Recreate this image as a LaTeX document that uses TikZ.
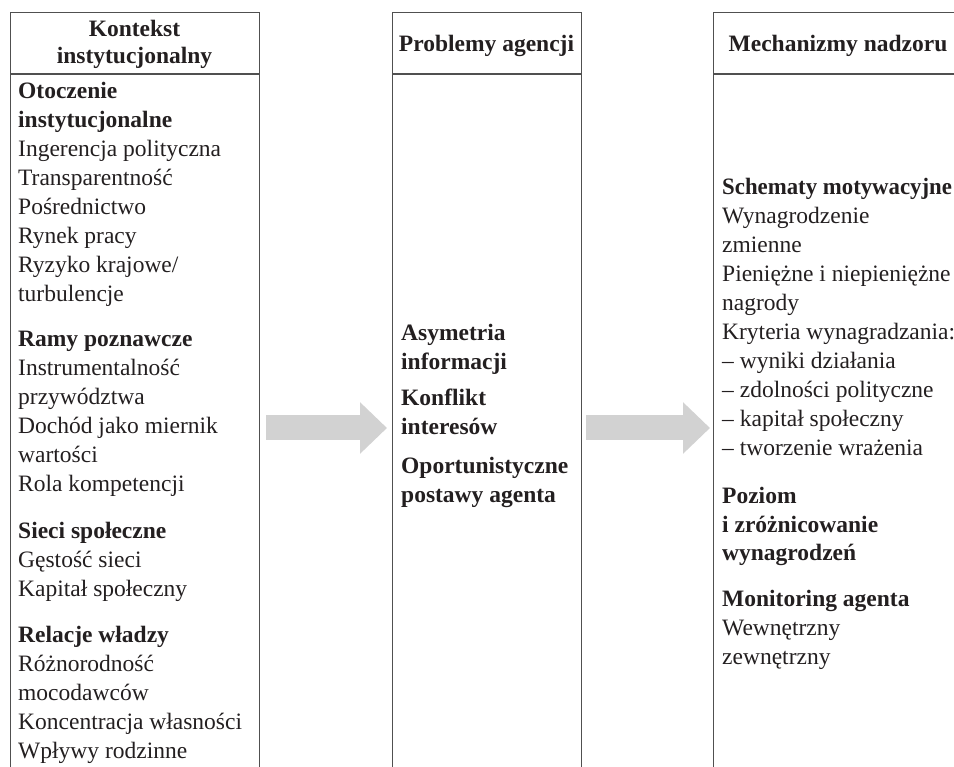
\documentclass[tikz,border=0pt]{standalone}
\usepackage{fontspec}
\setmainfont{Liberation Serif}
\usetikzlibrary{arrows.meta}

\definecolor{ramka}{HTML}{505050}
\definecolor{szary}{HTML}{D2D2D2}
\definecolor{czarny}{HTML}{231F20}

\tikzset{
  kolumna/.style={draw=ramka, line width=1.1pt, minimum height=800pt, inner sep=0pt, anchor=north west},
  naglowek/.style={anchor=base, inner sep=0pt, text=czarny, font=\fontsize{23.5}{27}\selectfont\bfseries},
  tekst/.style={anchor=base west, inner sep=0pt, text=czarny, font=\fontsize{23.5}{29}\selectfont},
  strzalka/.style={draw=szary, line width=25pt, -{Triangle[length=27pt, width=50pt]}}
}

\begin{document}
\begin{tikzpicture}[x=1pt, y=-1pt]

    % Fix the frame of the picture
    \useasboundingbox (0,0) rectangle (954,767);
    \clip (0,0) rectangle (954,767);

    % Heights of the header line and of the arrows
    \coordinate (linia) at (0,74);
    \coordinate (poziomS) at (0,428);

    % The three columns (open at the bottom)
    \node[kolumna, minimum width=249pt] (kolA) at (10,12) {};
    \node[kolumna, minimum width=189pt] (kolB) at (392,12) {};
    \node[kolumna, minimum width=257pt] (kolC) at (713,12) {};

    % Lines under the headers
    \draw[draw=ramka, line width=1.1pt] (kolA.west |- linia) -- (kolA.east |- linia);
    \draw[draw=ramka, line width=1.1pt] (kolB.west |- linia) -- (kolB.east |- linia);
    \draw[draw=ramka, line width=1.1pt] (kolC.west |- linia) -- (kolC.east |- linia);

    % Headers
    \node[naglowek] (tytulA) at (134.5,37) {\parbox[t]{230pt}{\centering Kontekst\\instytucjonalny}};
    \node[naglowek] (tytulB) at (486.5,52) {Problemy agencji};
    \node[naglowek] (tytulC) at (838,52) {Mechanizmy nadzoru};

    % Left column
    \node[tekst] (otoczenie) at (18,99) {\parbox[t]{235pt}{\textbf{Otoczenie}\\\textbf{instytucjonalne}\\Ingerencja polityczna\\Transparentność\\Pośrednictwo\\Rynek pracy\\Ryzyko krajowe/\\turbulencje}};
    \node[tekst] (ramy) at (18,347) {\parbox[t]{235pt}{\textbf{Ramy poznawcze}\\Instrumentalność\\przywództwa\\Dochód jako miernik\\wartości\\Rola kompetencji}};
    \node[tekst] (sieci) at (18,538) {\parbox[t]{235pt}{\textbf{Sieci społeczne}\\Gęstość sieci\\Kapitał społeczny}};
    \node[tekst] (relacje) at (18,642) {\parbox[t]{235pt}{\textbf{Relacje władzy}\\Różnorodność\\mocodawców\\Koncentracja własności\\Wpływy rodzinne}};

    % Middle column
    \node[tekst] (asymetria) at (401,341) {\parbox[t]{180pt}{\bfseries Asymetria\\informacji}};
    \node[tekst] (konflikt) at (401,406) {\parbox[t]{180pt}{\bfseries Konflikt\\interesów}};
    \node[tekst] (postawy) at (401,473) {\parbox[t]{180pt}{\bfseries Oportunistyczne\\postawy agenta}};

    % Right column
    \node[tekst] (schematy) at (722,195) {\parbox[t]{240pt}{\scalebox{0.97}[1]{\textbf{Schematy motywacyjne}}\\Wynagrodzenie\\zmienne\\Pieniężne i niepieniężne\\nagrody\\Kryteria wynagradzania:\\– wyniki działania\\– zdolności polityczne\\– kapitał społeczny\\– tworzenie wrażenia}};
    \node[tekst] (poziom) at (722,503) {\parbox[t]{240pt}{\bfseries Poziom\\i zróżnicowanie\\wynagrodzeń}};
    \node[tekst] (monitoring) at (722,606) {\parbox[t]{240pt}{\textbf{Monitoring agenta}\\Wewnętrzny\\zewnętrzny}};

    % Arrows between the columns
    \draw[strzalka] ([xshift=6pt]kolA.east |- poziomS) -- ([xshift=-5pt]kolB.west |- poziomS);
    \draw[strzalka] ([xshift=4pt]kolB.east |- poziomS) -- ([xshift=-3pt]kolC.west |- poziomS);

\end{tikzpicture}
\end{document}
